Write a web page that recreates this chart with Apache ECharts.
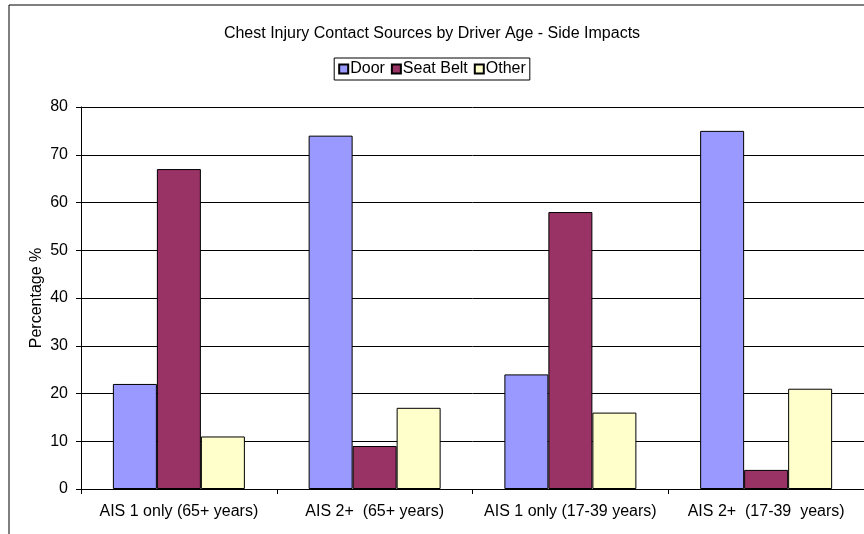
<!DOCTYPE html>
<html>
<head>
<meta charset="utf-8">
<script src="https://cdn.jsdelivr.net/npm/echarts@6/dist/echarts.min.js"></script>
<style>
  html, body { margin: 0; padding: 0; background: #fff; }
  #chart { width: 864px; height: 534px; }
</style>
</head>
<body>
<div id="chart"></div>
<script>
// categories and values
const categories = ['AIS 1 only (65+ years)', 'AIS 2+  (65+ years)', 'AIS 1 only (17-39 years)', 'AIS 2+  (17-39  years)'];
const doorValues = [22, 74, 24, 75];
const seatBeltValues = [67, 9, 58, 4];
const otherValues = [11, 17, 16, 21];

const FONT = 'Liberation Sans, Arial, sans-serif';

const chart = echarts.init(document.getElementById('chart'));

const barSeries = (name, data, color) => ({
  name,
  type: 'bar',
  data,
  barWidth: 44,
  barGap: '0%',
  itemStyle: { color, borderColor: '#000', borderWidth: 1 },
});

chart.setOption({
  animation: false,
  textStyle: { fontFamily: FONT },
  title: {
    text: 'Chest Injury Contact Sources by Driver Age - Side Impacts',
    left: 'center',
    top: 21,
    textStyle: { fontFamily: FONT, fontSize: 16, fontWeight: 'normal', color: '#000' },
  },
  legend: {
    top: 58,
    left: 'center',
    itemWidth: 9,
    itemHeight: 9,
    itemGap: 6,
    padding: [3, 4, 3, 4],
    borderColor: '#000',
    borderWidth: 1,
    icon: 'rect',
    textStyle: { fontFamily: FONT, fontSize: 16, color: '#000', padding: [0, 0, 0, -3] },
  },
  graphic: [
    {
      type: 'rect',
      shape: { x: 9, y: 5, width: 870, height: 540 },
      style: { fill: 'none', stroke: '#000', lineWidth: 1 },
      silent: true,
    },
  ],
  grid: { left: 81, top: 107, width: 784, height: 382 },
  xAxis: {
    type: 'category',
    data: categories,
    axisLine: { lineStyle: { color: '#000' } },
    axisTick: { show: true, length: 5, lineStyle: { color: '#000' } },
    axisLabel: { fontFamily: FONT, fontSize: 16, color: '#000', margin: 15, interval: 0 },
  },
  yAxis: {
    type: 'value',
    min: 0,
    max: 80,
    interval: 10,
    name: 'Percentage %',
    nameLocation: 'middle',
    nameGap: 36,
    nameMoveOverlap: false,
    nameTextStyle: { fontFamily: FONT, fontSize: 16, color: '#000' },
    axisLine: { show: true, lineStyle: { color: '#000' } },
    axisTick: { show: true, length: 5, lineStyle: { color: '#000' } },
    axisLabel: { fontFamily: FONT, fontSize: 16, color: '#000', margin: 13 },
    splitLine: { lineStyle: { color: '#000', width: 1 } },
  },
  series: [
    barSeries('Door', doorValues, '#9999FF'),
    barSeries('Seat Belt', seatBeltValues, '#993366'),
    barSeries('Other', otherValues, '#FFFFCC'),
  ],
});
</script>
</body>
</html>
